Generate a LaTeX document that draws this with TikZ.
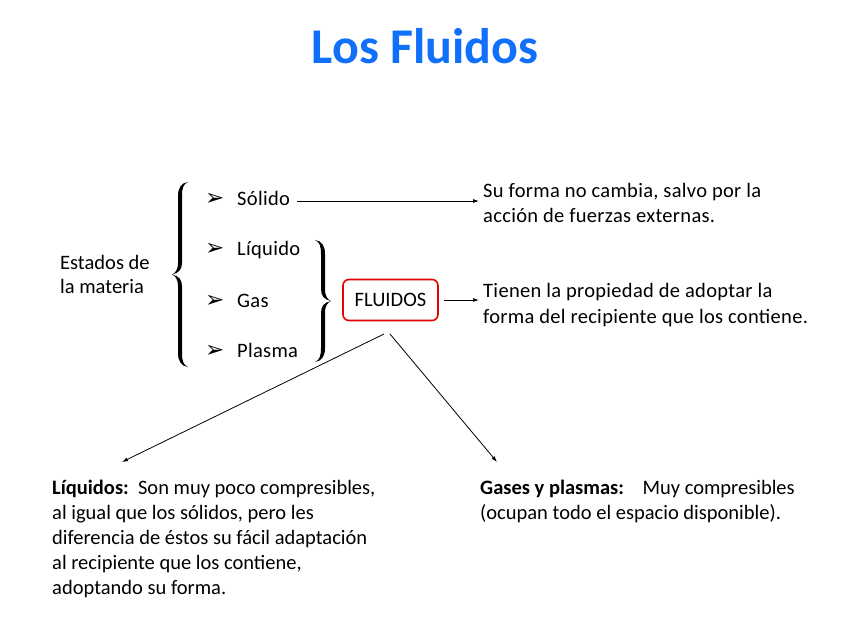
\documentclass[tikz,border=0pt]{standalone}
\usepackage{fontspec}
\setmainfont{Carlito}
\newfontfamily\spaced[LetterSpace=1.5]{Carlito}
\newfontfamily\dejavu{DejaVu Sans}
\usetikzlibrary{arrows.meta,calc}
\definecolor{titleblue}{RGB}{16,112,250}
\definecolor{boxred}{RGB}{230,0,0}
\begin{document}
\begin{tikzpicture}[x=1pt,y=-1pt,
  txt/.style={inner sep=0pt, anchor=base west, font=\fontsize{20.5}{25}\selectfont, align=left},
  stxt/.style={txt, font=\spaced\fontsize{20.5}{25}\selectfont},
  bul/.style={inner sep=0pt, anchor=base west, font=\dejavu\fontsize{23}{23}\selectfont},
  arr/.style={-{Latex[length=6pt,width=4pt]}, line width=0.8pt},
  pics/calbrace/.style={code={
    \fill (8,0) .. controls (1,1) and (-2,6) .. (-2,14) -- (-2,#1/2-12)
      .. controls (-2,#1/2-4) and (-5,#1/2-1.5) .. (-8,#1/2)
      .. controls (-5,#1/2+1.5) and (-2,#1/2+4) .. (-2,#1/2+12) -- (-2,#1-14)
      .. controls (-2,#1-6) and (1,#1-1) .. (8,#1)
      .. controls (3,#1-2) and (2,#1-7) .. (2,#1-14) -- (2,#1/2+12)
      .. controls (2,#1/2+5) and (-1,#1/2+1.5) .. (-8,#1/2)
      .. controls (-1,#1/2-1.5) and (2,#1/2-5) .. (2,#1/2-12) -- (2,14)
      .. controls (2,7) and (3,2) .. (8,0) -- cycle;
  }}]
\useasboundingbox[fill=white] (0,0) rectangle (848,636);
\node[inner sep=0pt, font=\bfseries\fontsize{50}{54}\selectfont, text=titleblue] (title) at (425,46) {Los Fluidos};
\node[txt, font=\fontsize{20.5}{24}\selectfont] (estados) at (60,293) {Estados de\\la materia};
\node[bul] (b1) at (205,206) {➢};
\node[bul] (b2) at (205,256) {➢};
\node[bul] (b3) at (205,307) {➢};
\node[bul] (b4) at (205,357) {➢};
\node[stxt] (solido) at (237,206) {Sólido};
\node[stxt] (liquido) at (237,256) {Líquido};
\node[stxt] (gas) at (237,307) {Gas};
\node[stxt] (plasma) at (237,357) {Plasma};
\pic at (180,182) {calbrace=185};
\pic[xscale=-1] at (323,240) {calbrace=122};
\node[draw=boxred, line width=1.6pt, rounded corners=6pt, minimum width=95pt, minimum height=41pt, inner sep=0pt, font=\fontsize{20.5}{22}\selectfont] (fluidos) at (390.5,300) {FLUIDOS};
\node[stxt] (forma) at (483,223) {Su forma no cambia, salvo por la\\acción de fuerzas externas.};
\node[stxt] (tienen) at (483,323) {Tienen la propiedad de adoptar la\\forma del recipiente que los contiene.};
\node[txt] (liq) at (52,594) {\textbf{Líquidos:}\ \ Son muy poco compresibles,\\al igual que los sólidos, pero les\\diferencia de éstos su fácil adaptación\\al recipiente que los contiene,\\adoptando su forma.};
\node[txt] (gases) at (480,519) {\textbf{Gases y plasmas:}\ \ \ \ Muy compresibles\\(ocupan todo el espacio disponible).};
\coordinate (s1) at (384,334);
\coordinate (s2) at (390,334);
\coordinate (e1) at (122,462);
\coordinate (e2) at (497,462);
\coordinate (a1s) at (297,201);
\coordinate (a1e) at (479,201);
\draw[arr] (a1s) -- (a1e);
\draw[arr] (fluidos.east) ++(5,0) -- (479,300);
\draw[arr] (s1) -- (e1);
\draw[arr] (s2) -- (e2);
\end{tikzpicture}
\end{document}
